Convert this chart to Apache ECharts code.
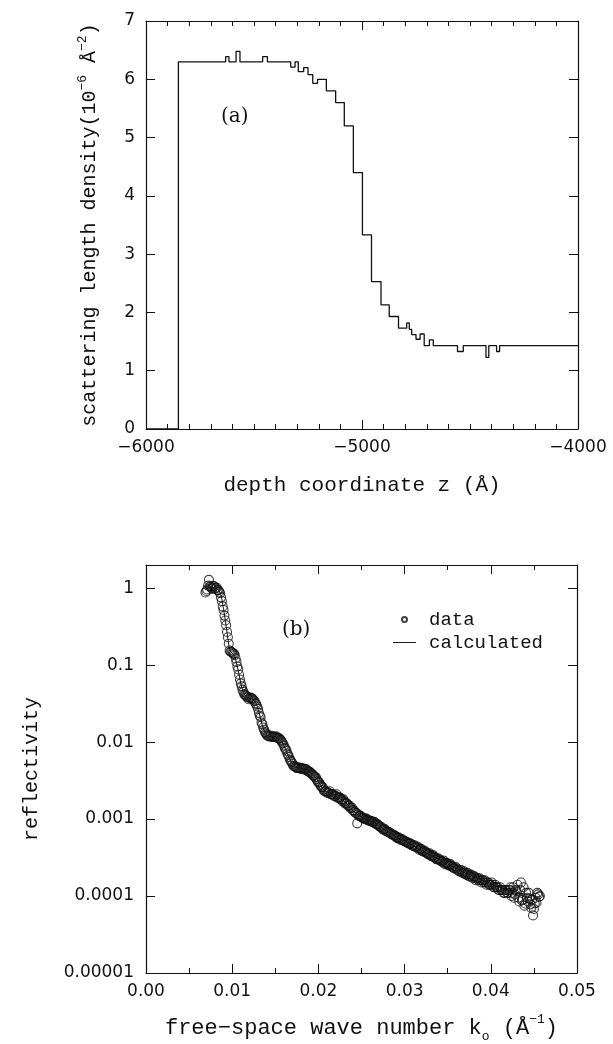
<!DOCTYPE html>
<html>
	<head>
		<meta charset="utf-8">
		<title></title>
		<script type="text/javascript" src="https://cdn.jsdelivr.net/npm/echarts@6/dist/echarts.min.js"></script>
		<style>
			html, body { margin: 0; padding: 0; background: #fff; }
		</style>
	</head>
	<body>
		<div id="chart" style="width:613px;height:1044px;"></div>
		<script type="text/javascript">
			// (a) step profile: layer start depth (Å) and density (10^-6 Å^-2)
			var profileZ = [-6000, -5850, -5631, -5616, -5583, -5565, -5460, -5438, -5330, -5310,
				-5295, -5270, -5250, -5228, -5206, -5165, -5122, -5082, -5040, -4998,
				-4956, -4912, -4874, -4831, -4793, -4781, -4770, -4750, -4731, -4712,
				-4688, -4670, -4558, -4531, -4426, -4413, -4377, -4363, -4000];
			var profileRho = [0, 6.3, 6.39, 6.3, 6.48, 6.3, 6.39, 6.3, 6.21, 6.3,
				6.13, 6.2, 6.08, 5.93, 6.0, 5.8, 5.6, 5.2, 4.4, 3.33,
				2.53, 2.13, 1.93, 1.73, 1.82, 1.71, 1.62, 1.54, 1.63, 1.43,
				1.53, 1.43, 1.33, 1.43, 1.23, 1.43, 1.33, 1.43, 1.43];

			// (b) measured reflectivity, first pass of points
			var dataK = [0.0069, 0.0071, 0.0073, 0.0075, 0.0077, 0.0079, 0.0081, 0.0083, 0.0085, 0.0087,
				0.0089, 0.0091, 0.0093, 0.0095, 0.0097, 0.0099, 0.0101, 0.0103, 0.0105, 0.0107,
				0.0109, 0.0111, 0.0113, 0.0115, 0.0117, 0.0119, 0.0121, 0.0123, 0.0125, 0.0127,
				0.0129, 0.0131, 0.0133, 0.0135, 0.0137, 0.0139, 0.0141, 0.0143, 0.0145, 0.0147,
				0.0149, 0.0151, 0.0153, 0.0155, 0.0157, 0.0159, 0.0161, 0.0163, 0.0165, 0.0167,
				0.0169, 0.0171, 0.0173, 0.0175, 0.0177, 0.0179, 0.0181, 0.0183, 0.0185, 0.0187,
				0.0189, 0.0191, 0.0193, 0.0195, 0.0197, 0.0199, 0.0201, 0.0203, 0.0205, 0.0207,
				0.0209, 0.0211, 0.0213, 0.0215, 0.0217, 0.0219, 0.0221, 0.0223, 0.0225, 0.0227,
				0.0229, 0.0231, 0.0233, 0.0235, 0.0237, 0.0239, 0.0241, 0.0243, 0.0245, 0.0247,
				0.0249, 0.0251, 0.0253, 0.0255, 0.0257, 0.0259, 0.0261, 0.0263, 0.0265, 0.0267,
				0.0269, 0.0271, 0.0273, 0.0275, 0.0277, 0.0279, 0.0281, 0.0283, 0.0285, 0.0287,
				0.0289, 0.0291, 0.0293, 0.0295, 0.0297, 0.0299, 0.0301, 0.0303, 0.0305, 0.0307,
				0.0309, 0.0311, 0.0313, 0.0315, 0.0317, 0.0319, 0.0321, 0.0323, 0.0325, 0.0327,
				0.0329, 0.0331, 0.0333, 0.0335, 0.0337, 0.0339, 0.0341, 0.0343, 0.0345, 0.0347,
				0.0349, 0.0351, 0.0353, 0.0355, 0.0357, 0.0359, 0.0361, 0.0363, 0.0365, 0.0367,
				0.0369, 0.0371, 0.0373, 0.0375, 0.0377, 0.0379, 0.0381, 0.0383, 0.0385, 0.0387,
				0.0389, 0.0391, 0.0393, 0.0395, 0.0397, 0.0399, 0.0401, 0.0403, 0.0405, 0.0407,
				0.0409, 0.0411, 0.0413, 0.0415, 0.0417, 0.0419, 0.0421, 0.0423, 0.0425, 0.0427,
				0.0429, 0.0431, 0.0433, 0.0435, 0.0437, 0.0439, 0.0441, 0.0443, 0.0445, 0.0447,
				0.0449, 0.0451, 0.0453, 0.0455, 0.0457];
			var dataR = [0.88, 0.96, 1.28, 1.04, 0.98, 1.05, 1.0, 0.95, 0.9, 0.76,
				0.58, 0.44, 0.33, 0.23, 0.155, 0.148, 0.143, 0.135, 0.11, 0.088,
				0.065, 0.053, 0.045, 0.041, 0.039, 0.036, 0.038, 0.037, 0.035, 0.032,
				0.029, 0.024, 0.021, 0.017, 0.0145, 0.013, 0.0121, 0.0118, 0.0122, 0.0117,
				0.0116, 0.0119, 0.0113, 0.0111, 0.0104, 0.0096, 0.0084, 0.0077, 0.0068, 0.0059,
				0.0055, 0.0049, 0.0048, 0.0046, 0.0047, 0.0045, 0.0046, 0.0044, 0.0045, 0.0043,
				0.0041, 0.004, 0.0038, 0.0036, 0.0035, 0.0031, 0.003, 0.0027, 0.0026, 0.0023,
				0.0023, 0.0022, 0.0023, 0.0021, 0.0021, 0.002, 0.0021, 0.0019, 0.0019, 0.0018,
				0.0018, 0.0016, 0.0016, 0.0015, 0.0014, 0.0014, 0.0013, 0.0012, 0.00088, 0.0011,
				0.0011, 0.00104, 0.00101, 0.00102, 0.00097, 0.00095, 0.00094, 0.00091, 0.00092, 0.00086,
				0.00085, 0.0008, 0.00079, 0.00073, 0.00074, 0.00069, 0.00068, 0.00067, 0.00063, 0.00062,
				0.00061, 0.00057, 0.00058, 0.00054, 0.00055, 0.00052, 0.00051, 0.0005, 0.00048, 0.00048,
				0.00045, 0.00046, 0.00043, 0.00044, 0.0004, 0.00041, 0.00038, 0.00039, 0.00037, 0.00035,
				0.00036, 0.00033, 0.00034, 0.00032, 0.0003, 0.00031, 0.00029, 0.00028, 0.00029, 0.00026,
				0.00027, 0.00025, 0.00026, 0.00024, 0.00023, 0.00024, 0.00022, 0.00021, 0.00022, 0.0002,
				0.00021, 0.00019, 0.0002, 0.00018, 0.00019, 0.00017, 0.00018, 0.00016, 0.00017, 0.00017,
				0.00015, 0.00016, 0.00016, 0.00014, 0.00015, 0.00014, 0.00015, 0.00013, 0.00014, 0.00013,
				0.00012, 0.00013, 0.00012, 0.00011, 0.00012, 0.00011, 0.00012, 0.00013, 0.00011, 0.000095,
				0.00012, 0.00014, 0.000085, 0.00015, 0.00009, 0.000075, 0.00011, 0.000085, 0.000092, 0.00007,
				0.000056, 0.00008, 0.000082, 0.000105, 0.0001];

			// (b) measured reflectivity, interleaved points
			var dataK2 = [0.0070, 0.0072, 0.0074, 0.0076, 0.0078, 0.0080, 0.0082, 0.0084, 0.0086, 0.0088,
				0.0090, 0.0092, 0.0094, 0.0096, 0.0098, 0.0100, 0.0102, 0.0104, 0.0106, 0.0108,
				0.0110, 0.0112, 0.0114, 0.0116, 0.0118, 0.0120, 0.0122, 0.0124, 0.0126, 0.0128,
				0.0130, 0.0132, 0.0134, 0.0136, 0.0138, 0.0140, 0.0142, 0.0144, 0.0146, 0.0148,
				0.0150, 0.0152, 0.0154, 0.0156, 0.0158, 0.0160, 0.0162, 0.0164, 0.0166, 0.0168,
				0.0170, 0.0172, 0.0174, 0.0176, 0.0178, 0.0180, 0.0182, 0.0184, 0.0186, 0.0188,
				0.0190, 0.0192, 0.0194, 0.0196, 0.0198, 0.0200, 0.0202, 0.0204, 0.0206, 0.0208,
				0.0210, 0.0212, 0.0214, 0.0216, 0.0218, 0.0220, 0.0222, 0.0224, 0.0226, 0.0228,
				0.0230, 0.0232, 0.0234, 0.0236, 0.0238, 0.0240, 0.0242, 0.0244, 0.0246, 0.0248,
				0.0250, 0.0252, 0.0254, 0.0256, 0.0258, 0.0260, 0.0262, 0.0264, 0.0266, 0.0268,
				0.0270, 0.0272, 0.0274, 0.0276, 0.0278, 0.0280, 0.0282, 0.0284, 0.0286, 0.0288,
				0.0290, 0.0292, 0.0294, 0.0296, 0.0298, 0.0300, 0.0302, 0.0304, 0.0306, 0.0308,
				0.0310, 0.0312, 0.0314, 0.0316, 0.0318, 0.0320, 0.0322, 0.0324, 0.0326, 0.0328,
				0.0330, 0.0332, 0.0334, 0.0336, 0.0338, 0.0340, 0.0342, 0.0344, 0.0346, 0.0348,
				0.0350, 0.0352, 0.0354, 0.0356, 0.0358, 0.0360, 0.0362, 0.0364, 0.0366, 0.0368,
				0.0370, 0.0372, 0.0374, 0.0376, 0.0378, 0.0380, 0.0382, 0.0384, 0.0386, 0.0388,
				0.0390, 0.0392, 0.0394, 0.0396, 0.0398, 0.0400, 0.0402, 0.0404, 0.0406, 0.0408,
				0.0410, 0.0412, 0.0414, 0.0416, 0.0418, 0.0420, 0.0422, 0.0424, 0.0426, 0.0428,
				0.0430, 0.0432, 0.0434, 0.0436, 0.0438, 0.0440, 0.0442, 0.0444, 0.0446, 0.0448,
				0.0450, 0.0452, 0.0454, 0.0456];
			var dataR2 = [0.92, 1.08, 1.06, 1.0, 1.07, 0.99, 1.02, 0.94, 0.86, 0.68,
				0.52, 0.38, 0.27, 0.19, 0.15, 0.146, 0.14, 0.122, 0.096, 0.075,
				0.058, 0.048, 0.042, 0.04, 0.038, 0.0375, 0.037, 0.036, 0.034, 0.031,
				0.027, 0.022, 0.018, 0.0155, 0.0135, 0.0125, 0.012, 0.0119, 0.0117, 0.0118,
				0.0116, 0.0115, 0.0112, 0.0107, 0.0099, 0.009, 0.0081, 0.0071, 0.0064, 0.0057,
				0.0052, 0.0049, 0.0047, 0.0046, 0.0046, 0.0045, 0.0045, 0.0044, 0.0044, 0.0042,
				0.0041, 0.0039, 0.0037, 0.0035, 0.0033, 0.003, 0.0028, 0.0026, 0.0024, 0.0023,
				0.0022, 0.0022, 0.0021, 0.0021, 0.002, 0.002, 0.0019, 0.0019, 0.0018, 0.0017,
				0.0017, 0.0016, 0.0015, 0.0015, 0.0014, 0.0013, 0.00125, 0.0012, 0.00115, 0.0011,
				0.00106, 0.00103, 0.001, 0.00099, 0.00097, 0.00095, 0.00093, 0.00091, 0.00088, 0.00086,
				0.00082, 0.00079, 0.00076, 0.00074, 0.00071, 0.00069, 0.00067, 0.00065, 0.00063, 0.00061,
				0.00059, 0.00057, 0.00056, 0.00054, 0.00053, 0.00052, 0.0005, 0.00049, 0.00048, 0.00046,
				0.00045, 0.00044, 0.00043, 0.00042, 0.00041, 0.00039, 0.00038, 0.00037, 0.00036, 0.00035,
				0.00034, 0.00033, 0.00032, 0.00031, 0.0003, 0.0003, 0.00029, 0.00028, 0.00027, 0.00027,
				0.00026, 0.00025, 0.00025, 0.00024, 0.00023, 0.00023, 0.00022, 0.00021, 0.00021, 0.0002,
				0.0002, 0.00019, 0.00019, 0.00018, 0.00018, 0.00018, 0.00017, 0.00017, 0.00016, 0.00016,
				0.00016, 0.00015, 0.00015, 0.00015, 0.00014, 0.00014, 0.00014, 0.00013, 0.00013, 0.00013,
				0.00012, 0.00012, 0.00012, 0.00011, 0.00012, 0.00011, 0.00012, 0.0001, 0.00013, 0.000105,
				0.000115, 0.000095, 0.00012, 0.000088, 0.00013, 0.00008, 0.000095, 0.00011, 0.000078, 0.00009,
				0.000068, 0.000095, 0.00011, 0.000098];

			// (b) calculated curve
			var calcK = [0.0069, 0.0075, 0.0080, 0.0084, 0.0087, 0.0089, 0.0091, 0.0093, 0.0095, 0.0097,
				0.0099, 0.0101, 0.0103, 0.0105, 0.0107, 0.0109, 0.0111, 0.0113, 0.0115, 0.0118,
				0.0121, 0.0124, 0.0127, 0.0130, 0.0133, 0.0136, 0.0139, 0.0142, 0.0146, 0.0150,
				0.0154, 0.0158, 0.0162, 0.0166, 0.0170, 0.0174, 0.0178, 0.0183, 0.0188, 0.0193,
				0.0198, 0.0203, 0.0208, 0.0213, 0.0218, 0.0223, 0.0228, 0.0233, 0.0240, 0.0247,
				0.0254, 0.0261, 0.0268, 0.0275, 0.0283, 0.0291, 0.0300, 0.0310, 0.0320, 0.0330,
				0.0340, 0.0350, 0.0360, 0.0370, 0.0380, 0.0390, 0.0400, 0.0410, 0.0420, 0.0430,
				0.0440, 0.0450, 0.0457];
			var calcR = [1.0, 1.02, 1.0, 0.95, 0.8, 0.62, 0.45, 0.32, 0.22, 0.16,
				0.145, 0.14, 0.13, 0.105, 0.085, 0.066, 0.052, 0.044, 0.04, 0.038,
				0.037, 0.036, 0.033, 0.027, 0.02, 0.015, 0.0128, 0.012, 0.0118, 0.0117,
				0.0112, 0.01, 0.008, 0.0063, 0.0052, 0.0047, 0.0046, 0.0045, 0.0043, 0.0038,
				0.0033, 0.0027, 0.0023, 0.0022, 0.00205, 0.0019, 0.00175, 0.0016, 0.00128, 0.00112,
				0.00101, 0.00094, 0.00086, 0.00075, 0.00066, 0.00058, 0.00052, 0.00045, 0.00039, 0.00034,
				0.0003, 0.00026, 0.00023, 0.0002, 0.00018, 0.00016, 0.000145, 0.00013, 0.00012, 0.000112,
				0.000105, 0.0001, 0.000097];

			var rTickLabels = ['0.00001', '0.0001', '0.001', '0.01', '0.1', '1'];

			var numFont = 'DejaVu Sans';
			var textFont = 'Liberation Mono';

			function pairs(xs, ys) {
				var out = [];
				for (var i = 0; i < xs.length; i++) {
					out.push([xs[i], ys[i]]);
				}
				return out;
			}

			function frameAxis(extra) {
				var a = {
					axisLine: { show: true, onZero: false, lineStyle: { color: '#111', width: 1.2 } },
					axisTick: { show: true, inside: true, length: 9, lineStyle: { color: '#111', width: 1 } },
					splitLine: { show: false },
					axisLabel: { show: false }
				};
				for (var k in extra) a[k] = extra[k];
				return a;
			}

			var myChart = echarts.init(document.getElementById('chart'));
			var option = {
				animation: false,
				backgroundColor: '#fff',
				grid: [
					{ left: 146, top: 21, width: 432, height: 408 },
					{ left: 146, top: 565, width: 431, height: 410 }
				],
				xAxis: [
					frameAxis({
						gridIndex: 0, type: 'value', min: -6000, max: -4000, interval: 1000,
						minorTick: { show: true, splitNumber: 10, length: 5, lineStyle: { color: '#111' } },
						axisLabel: {
							show: true, margin: 10, color: '#111', fontFamily: numFont, fontSize: 17,
							formatter: function(v) { return String(v).replace('-', '\u2212'); }
						},
						name: 'depth coordinate z (\u00c5)',
						nameLocation: 'middle', nameGap: 46,
						nameTextStyle: { color: '#111', fontFamily: textFont, fontSize: 21 }
					}),
					frameAxis({
						gridIndex: 0, type: 'value', position: 'top', min: -6000, max: -4000, interval: 1000,
						minorTick: { show: true, splitNumber: 10, length: 5, lineStyle: { color: '#111' } }
					}),
					frameAxis({
						gridIndex: 1, type: 'value', min: 0, max: 0.05, interval: 0.01,
						minorTick: { show: true, splitNumber: 2, length: 5, lineStyle: { color: '#111' } },
						axisLabel: {
							show: true, margin: 10, color: '#111', fontFamily: numFont, fontSize: 17,
							formatter: function(v) { return v.toFixed(2); }
						},
						name: 'free\u2212space wave number k{sub|o} (\u00c5{sup|\u22121})',
						nameLocation: 'middle', nameGap: 40,
						nameTextStyle: {
							color: '#111', fontFamily: textFont, fontSize: 22, lineHeight: 30,
							rich: {
								sub: { fontFamily: textFont, fontSize: 13, verticalAlign: 'bottom', lineHeight: 22 },
								sup: { fontFamily: textFont, fontSize: 13, verticalAlign: 'top', lineHeight: 30 }
							}
						}
					}),
					frameAxis({
						gridIndex: 1, type: 'value', position: 'top', min: 0, max: 0.05, interval: 0.01,
						minorTick: { show: true, splitNumber: 2, length: 5, lineStyle: { color: '#111' } }
					})
				],
				yAxis: [
					frameAxis({
						gridIndex: 0, type: 'value', min: 0, max: 7, interval: 1,
						axisLabel: { show: true, margin: 11, color: '#111', fontFamily: numFont, fontSize: 17 },
						name: 'scattering length density(10{sup|\u22126} \u00c5{sup|\u22122})',
						nameLocation: 'middle', nameGap: 42, nameRotate: 90,
						nameTextStyle: {
							color: '#111', fontFamily: textFont, fontSize: 20, lineHeight: 28,
							rich: {
								sup: { fontFamily: textFont, fontSize: 13, verticalAlign: 'top', lineHeight: 28 }
							}
						}
					}),
					frameAxis({ gridIndex: 0, type: 'value', position: 'right', min: 0, max: 7, interval: 1 }),
					frameAxis({
						gridIndex: 1, type: 'log', logBase: 10, min: 0.00001, max: 2,
						axisLabel: {
							show: true, margin: 12, color: '#111', fontFamily: numFont, fontSize: 17,
							formatter: function(v) {
								var e = Math.log(v) / Math.LN10;
								var r = Math.round(e);
								if (Math.abs(e - r) > 1e-6) return '';
								return rTickLabels[r + 5] || '';
							}
						},
						name: 'reflectivity',
						nameLocation: 'middle', nameGap: 104, nameRotate: 90,
						nameTextStyle: { color: '#111', fontFamily: textFont, fontSize: 20 }
					}),
					frameAxis({ gridIndex: 1, type: 'log', logBase: 10, position: 'right', min: 0.00001, max: 2 })
				],
				legend: {
					orient: 'vertical',
					left: 393, top: 610, padding: 0,
					itemWidth: 23, itemHeight: 5, itemGap: 4,
					textStyle: { color: '#111', fontFamily: textFont, fontSize: 19, padding: [0, 0, 0, 8] },
					data: [
						{ name: 'data' },
						{ name: 'calculated', icon: 'path://M0,0 L24,0 L24,1 L0,1 Z', itemStyle: { color: '#111' } }
					]
				},
				graphic: [
					{ type: 'text', left: 221, top: 107, style: { text: '(a)', fill: '#111', font: '20px "DejaVu Serif"' } },
					{ type: 'text', left: 282, top: 620, style: { text: '(b)', fill: '#111', font: '20px "DejaVu Serif"' } }
				],
				series: [
					{
						name: 'profile',
						type: 'line',
						xAxisIndex: 0, yAxisIndex: 0,
						step: 'end',
						symbol: 'none',
						lineStyle: { color: '#111', width: 1.3 },
						data: pairs(profileZ, profileRho)
					},
					{
						name: 'data',
						type: 'scatter',
						xAxisIndex: 2, yAxisIndex: 2,
						symbol: 'circle',
						symbolSize: 9,
						itemStyle: { color: 'rgba(255,255,255,0)', borderColor: '#111', borderWidth: 1.1 },
						data: pairs(dataK, dataR).concat(pairs(dataK2, dataR2))
					},
					{
						name: 'calculated',
						type: 'line',
						xAxisIndex: 2, yAxisIndex: 2,
						symbol: 'none',
						smooth: 0.3,
						itemStyle: { color: '#111' },
						lineStyle: { color: '#111', width: 1 },
						data: pairs(calcK, calcR)
					}
				]
			};
			myChart.setOption(option);
		</script>
	</body>
</html>
